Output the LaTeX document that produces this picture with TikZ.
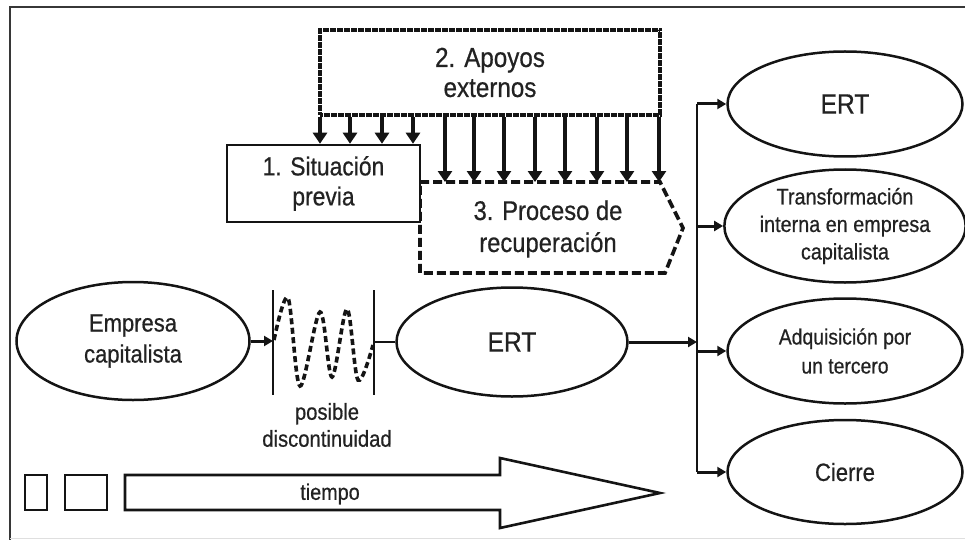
\documentclass[tikz,border=0pt]{standalone}
\usepackage{fontspec}
\setmainfont{Liberation Sans}
\newfontfamily\cf[FakeStretch=0.88,FakeBold=0.6]{Liberation Sans}
\usetikzlibrary{arrows.meta,shapes.geometric}
\definecolor{txt}{HTML}{222222}
\definecolor{ink}{HTML}{141414}
\begin{document}
\begin{tikzpicture}[x=1pt,y=-1pt,
  ell/.style={ellipse,draw=ink,line width=2.5pt,inner sep=0pt,text=txt,align=center},
  boxs/.style={rectangle,draw=ink,line width=2.5pt,inner sep=0pt,text=txt,align=center,fill=white},
  apbox/.style={rectangle,draw=ink,line width=4pt,dash pattern=on 3pt off 0.5pt,inner sep=0pt,text=txt,align=center},
  lbl/.style={text=txt,align=center,inner sep=0pt},
  fbig/.style={font=\cf\fontsize{26}{30}\selectfont},
  fmed/.style={font=\cf\fontsize{22.5}{27.5}\selectfont},
  bigarr/.style={draw=ink,line width=4pt,-{Triangle[width=14pt,length=11pt]}},
  sarr/.style={draw=ink,line width=3pt,-{Triangle[width=10pt,length=9pt]}},
  conn/.style={draw=ink,line width=2.6pt},
  dline/.style={draw=ink,line width=3.6pt,dash pattern=on 9pt off 4pt},
  wave/.style={draw=ink,line width=3.6pt,dash pattern=on 6pt off 3.5pt},
  frame/.style={draw=ink!85,line width=2.5pt}
]
\useasboundingbox (0,0) rectangle (965,540);
% frame
\draw[frame] (965,7) -- (10,7) -- (10,540);
\draw[gray!25,line width=1pt] (10,538) -- (965,538);

% Proceso (dashed chevron)
\coordinate (procTL) at (420,182);
\coordinate (procTR) at (660,182);
\coordinate (procP) at (683,228);
\coordinate (procBR) at (665,273);
\coordinate (procBL) at (420,273);
\draw[dline] (procTL) -- (procTR) -- (procP) -- (procBR) -- (procBL) -- cycle;
\node[lbl,font=\cf\fontsize{27}{32}\selectfont] (proc) at (548,229) {3. Proceso de\\recuperación};

% Situacion previa
\node[boxs,fbig,minimum width=193pt,minimum height=77pt] (sit) at (323.5,183.5) {1. Situación\\previa};

% Apoyos externos
\node[apbox,font=\cf\fontsize{27.5}{30}\selectfont,minimum width=340pt,minimum height=85pt] (apoyos) at (490,72.5) {2. Apoyos\\externos};
\foreach \x in {320,350,382,413}
  \draw[bigarr] (\x,0 |- apoyos.south) -- (\x,0 |- sit.north);
\foreach \x in {445,474,504,535,565,597,627,659}
  \draw[bigarr] (\x,0 |- apoyos.south) -- (\x,0 |- procTL);

% main line
\node[ell,font=\cf\fontsize{25}{31}\selectfont,minimum width=233pt,minimum height=118pt] (emp) at (133,341) {Empresa\\capitalista};
\coordinate (d1t) at (273,290);
\coordinate (d1b) at (273,395);
\coordinate (d2t) at (374,290);
\coordinate (d2b) at (374,395);
\draw[conn] (d1t) -- (d1b);
\draw[conn] (d2t) -- (d2b);
\draw[wave] plot[smooth,tension=0.55] coordinates {(274,340) (288,298) (300,386) (320,312) (332,377) (347,309) (358,380) (373,345)};
\node[lbl,font=\cf\fontsize{23}{27}\selectfont] (disc) at (327,425) {posible\\discontinuidad};

\node[ell,font=\cf\fontsize{28}{32}\selectfont,minimum width=231pt,minimum height=109pt] (ert) at (512,342) {ERT};
\draw[sarr] (emp.east) -- (emp.east -| d1t);
\draw[conn] (ert.west -| d2t) -- (ert.west);

% outcomes
\node[ell,font=\cf\fontsize{28}{32}\selectfont,minimum width=235pt,minimum height=105pt] (ertR) at (845,104) {ERT};
\node[ell,fmed,minimum width=235pt,minimum height=113pt] (transf) at (845,226) {Transformación\\interna en empresa\\capitalista};
\node[ell,font=\cf\fontsize{22}{29}\selectfont,minimum width=235pt,minimum height=105pt] (adq) at (845,351) {Adquisición por\\un tercero};
\node[ell,font=\cf\fontsize{25}{30}\selectfont,minimum width=235pt,minimum height=104pt] (cierre) at (845,472) {Cierre};

\coordinate (junc) at (697,342);
\draw[sarr] (ert.east) -- (junc);
\draw[conn] (junc |- ertR.west) -- (junc |- cierre.west);
\foreach \n in {ertR,transf,adq,cierre}
  \draw[sarr] (junc |- \n.west) -- (\n.west);

% time arrow
\node[boxs,minimum width=22pt,minimum height=35pt] (r1) at (36,492.5) {};
\node[boxs,minimum width=42pt,minimum height=35pt] (r2) at (86,492.5) {};
\draw[conn,line join=miter] (125,475) -- (500,475) -- (500,458) -- (660,493) -- (500,528) -- (500,510) -- (125,510) -- cycle;
\node[lbl,font=\cf\fontsize{22.5}{27}\selectfont] (tiempo) at (330,494) {tiempo};
\end{tikzpicture}
\end{document}
